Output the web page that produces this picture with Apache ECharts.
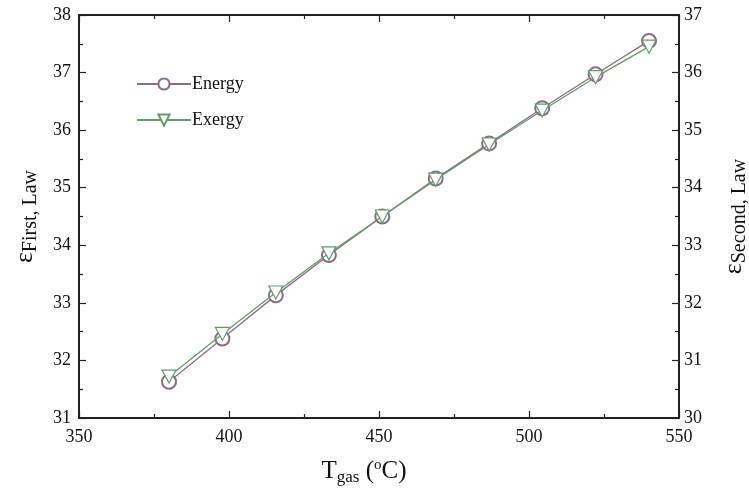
<!DOCTYPE html>
<html>
<head>
<meta charset="utf-8">
<script src="https://cdn.jsdelivr.net/npm/echarts@6/dist/echarts.min.js"></script>
<style>
html,body{margin:0;padding:0;background:#fff;}
#chart{width:749px;height:497px;}
</style>
</head>
<body>
<div id="chart"></div>
<script>
// Gas temperature (°C)
const tGas = [380, 397.8, 415.6, 433.3, 451.1, 468.9, 486.7, 504.4, 522.2, 540];
// First-law (energy) efficiency, left axis
const energyEff = [31.63, 32.38, 33.13, 33.83, 34.50, 35.16, 35.77, 36.38, 36.97, 37.55];
// Second-law (exergy) efficiency, right axis
const exergyEff = [30.72, 31.46, 32.18, 32.86, 33.50, 34.14, 34.75, 35.34, 35.92, 36.45];

const FONT = '"Liberation Serif", "Times New Roman", serif';
const AX = '#222';

const chart = echarts.init(document.getElementById('chart'));

const tickStyle = { show: true, inside: true, length: 7, lineStyle: { color: AX, width: 1.2 } };
const minorStyle = { show: true, splitNumber: 2, length: 4, lineStyle: { color: AX, width: 1.2 } };
const lineAxis = { show: true, lineStyle: { color: AX, width: 2 } };
const labelStyle = { fontFamily: FONT, fontSize: 18, color: '#111' };

const nameRich = {
  e: { fontFamily: FONT, fontSize: 26, color: '#111', lineHeight: 32 },
  s: { fontFamily: FONT, fontSize: 20, color: '#111', padding: [12, 0, 0, 0], lineHeight: 32 }
};

chart.setOption({
  backgroundColor: '#fff',
  animation: false,
  grid: { left: 79, right: 70, top: 15, bottom: 79, containLabel: false, outerBoundsMode: 'none' },
  legend: {
    left: 131, top: 70, orient: 'vertical', itemGap: 18,
    itemWidth: 54, itemHeight: 14,
    textStyle: { fontFamily: FONT, fontSize: 18, color: '#111', padding: [0, 0, 0, -4] },
    data: ['Energy', 'Exergy']
  },
  xAxis: [{
    type: 'value', min: 350, max: 550, interval: 50, position: 'bottom',
    axisLine: lineAxis, axisTick: tickStyle, minorTick: minorStyle,
    splitLine: { show: false },
    axisLabel: Object.assign({ margin: 10 }, labelStyle),
    name: '{t|T}{s|gas}{t| (}{o|o}{t|C)}',
    nameLocation: 'middle', nameGap: 38,
    nameTextStyle: {
      fontFamily: FONT, color: '#111', padding: [0, 30, 0, 0],
      rich: {
        t: { fontFamily: FONT, fontSize: 25, color: '#111', lineHeight: 30 },
        s: { fontFamily: FONT, fontSize: 17, color: '#111', padding: [14, 0, 0, 0], lineHeight: 30 },
        o: { fontFamily: FONT, fontSize: 15, color: '#111', padding: [0, 0, 12, 0], lineHeight: 30 }
      }
    }
  }, {
    type: 'value', min: 350, max: 550, interval: 50, position: 'top',
    axisLine: lineAxis, axisTick: tickStyle, minorTick: minorStyle,
    splitLine: { show: false }, axisLabel: { show: false }
  }],
  yAxis: [{
    type: 'value', min: 31, max: 38, interval: 1, position: 'left',
    axisLine: lineAxis, axisTick: tickStyle, minorTick: minorStyle,
    splitLine: { show: false },
    axisLabel: Object.assign({ margin: 8 }, labelStyle),
    name: '{e|ε}{s|First, Law}',
    nameLocation: 'middle', nameGap: 38, nameRotate: 90,
    nameTextStyle: { fontFamily: FONT, color: '#111', rich: nameRich }
  }, {
    type: 'value', min: 30, max: 37, interval: 1, position: 'right',
    axisLine: lineAxis, axisTick: tickStyle, minorTick: minorStyle,
    splitLine: { show: false },
    axisLabel: Object.assign({ margin: 5 }, labelStyle),
    name: '{e|ε}{s|Second, Law}',
    nameLocation: 'middle', nameGap: 39, nameRotate: 90,
    nameTextStyle: { fontFamily: FONT, color: '#111', rich: nameRich }
  }],
  series: [{
    name: 'Energy', type: 'line', xAxisIndex: 0, yAxisIndex: 0,
    data: tGas.map((t, i) => [t, energyEff[i]]),
    symbol: 'emptyCircle', symbolSize: 14,
    lineStyle: { color: '#8e6a88', width: 1.3 },
    itemStyle: { color: '#8e6a88', borderColor: '#8e6a88', borderWidth: 1.2 },
    z: 2
  }, {
    name: 'Exergy', type: 'line', xAxisIndex: 0, yAxisIndex: 1,
    data: tGas.map((t, i) => [t, exergyEff[i]]),
    symbol: 'path://M0,0 L12,0 L6,11 Z', symbolSize: [14, 13],
    lineStyle: { color: '#5f9e6a', width: 1.3 },
    itemStyle: { color: '#ffffff', borderColor: '#5f9e6a', borderWidth: 1.2 },
    z: 3
  }]
});
</script>
</body>
</html>
